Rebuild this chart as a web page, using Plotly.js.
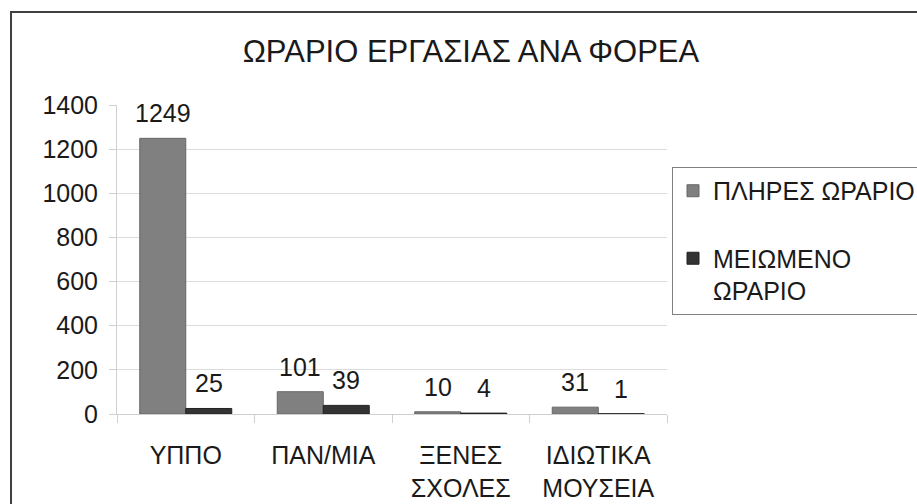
<!DOCTYPE html>
<html>
<head>
<meta charset="utf-8">
<script src="https://cdn.plot.ly/plotly-3.0.1.min.js"></script>
<style>html,body{margin:0;padding:0;background:#fff;}#chart{width:917px;height:504px;}</style>
</head>
<body>
<div id="chart"></div>
<script>
const categories = ['ΥΠΠΟ', 'ΠΑΝ/ΜΙΑ', 'ΞΕΝΕΣ<br>ΣΧΟΛΕΣ', 'ΙΔΙΩΤΙΚΑ<br>ΜΟΥΣΕΙΑ'];
const fullTime = [1249, 101, 10, 31];
const reducedTime = [25, 39, 4, 1];
const seriesNames = ['ΠΛΗΡΕΣ ΩΡΑΡΙΟ', 'ΜΕΙΩΜΕΝΟ<br>ΩΡΑΡΙΟ'];
const yTicks = [0, 200, 400, 600, 800, 1000, 1200, 1400];

const FONT = '"Liberation Sans", Arial, sans-serif';
const TXT = '#1a1a1a';

const traces = [
  {
    type: 'bar', name: seriesNames[0], x: categories, y: fullTime,
    marker: {color: '#808080', line: {color: '#666666', width: 1}},
    legendgroup: 'a', hoverinfo: 'none'
  },
  {
    type: 'bar', name: seriesNames[1], x: categories, y: reducedTime,
    marker: {color: '#333333', line: {color: '#222222', width: 1}},
    legendgroup: 'b', hoverinfo: 'none'
  }
];

const annotations = [];
categories.forEach((c, i) => {
  annotations.push({x: c, y: fullTime[i], xref: 'x', yref: 'y', text: String(fullTime[i]),
    showarrow: false, xshift: -23, yshift: 9, yanchor: 'bottom', font: {family: FONT, size: 25, color: TXT}});
  annotations.push({x: c, y: reducedTime[i], xref: 'x', yref: 'y', text: String(reducedTime[i]),
    showarrow: false, xshift: 23, yshift: 9, yanchor: 'bottom', font: {family: FONT, size: 25, color: TXT}});
});

const layout = {
  width: 917, height: 504,
  paper_bgcolor: '#ffffff', plot_bgcolor: '#ffffff',
  font: {family: FONT, color: TXT, size: 25},
  margin: {l: 117, r: 250, t: 105, b: 90, autoexpand: false},
  title: {text: 'ΩΡΑΡΙΟ ΕΡΓΑΣΙΑΣ ΑΝΑ ΦΟΡΕΑ', x: 0.5136, xanchor: 'center', xref: 'container',
    y: 0.899, yanchor: 'middle', yref: 'container', font: {family: FONT, size: 31, color: TXT}},
  barmode: 'group', bargap: 0.331, bargroupgap: 0,
  xaxis: {type: 'category', showgrid: false, showline: true, linecolor: '#d0d0d0', linewidth: 1,
    ticks: 'outside', tickson: 'boundaries', ticklen: 8, tickcolor: '#d0d0d0',
    tickfont: {family: FONT, size: 25, color: TXT}, ticklabelstandoff: 19, fixedrange: true},
  yaxis: {range: [0, 1400], tickvals: yTicks, showgrid: true, gridcolor: '#dcdcdc', zeroline: false,
    showline: true, linecolor: '#d0d0d0', linewidth: 1, ticks: 'outside', ticklen: 7, tickcolor: '#d0d0d0',
    tickfont: {family: FONT, size: 25, color: TXT}, ticklabelstandoff: 6, fixedrange: true},
  legend: {x: 1.0091, xanchor: 'left', y: 0.7994, yanchor: 'top', bordercolor: '#808080', borderwidth: 1,
    bgcolor: '#ffffff', font: {family: FONT, size: 25, color: TXT}, traceorder: 'grouped',
    tracegroupgap: 32, valign: 'top'},
  annotations: annotations,
  shapes: [{type: 'rect', xref: 'paper', yref: 'paper', x0: -0.1927, x1: 1.6, y0: 1.301, y1: -0.4,
    line: {color: '#404040', width: 2}, fillcolor: 'rgba(0,0,0,0)', layer: 'below'}]
};

Plotly.newPlot('chart', traces, layout, {displayModeBar: false, staticPlot: true});
</script>
</body>
</html>
